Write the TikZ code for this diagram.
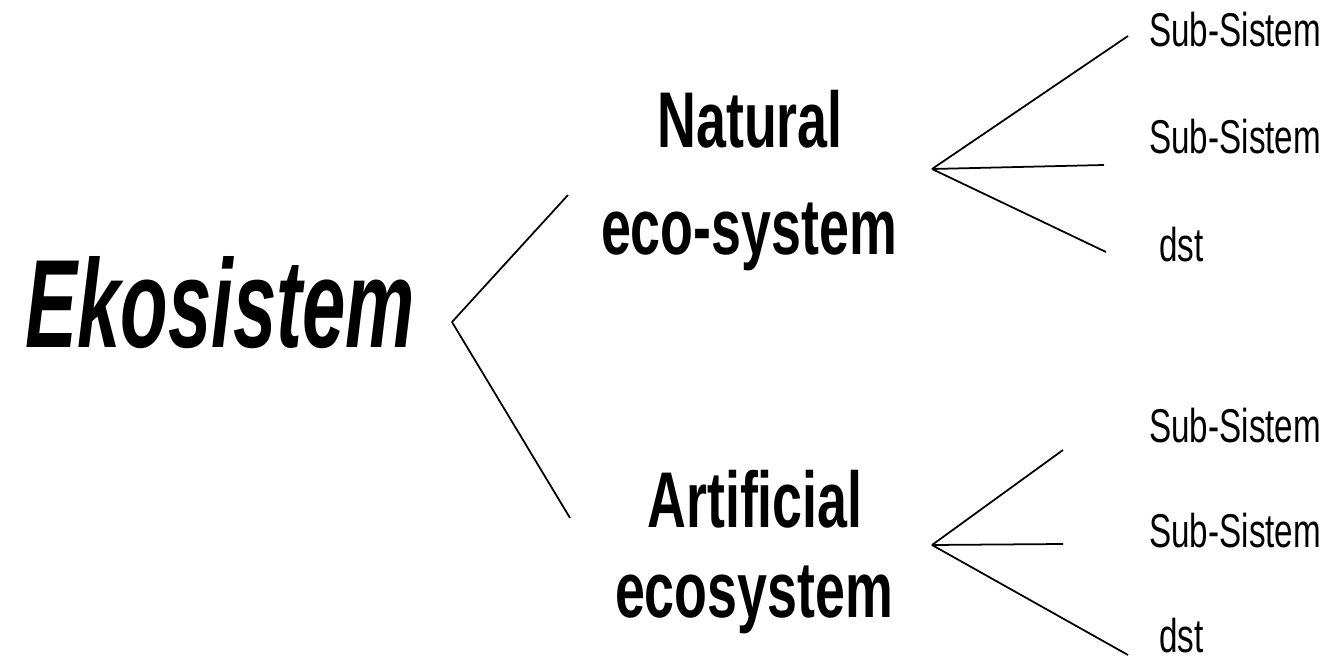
\documentclass[tikz,border=0pt]{standalone}
\usepackage{fontspec}
\setmainfont{Liberation Sans}
\newfontfamily\headfont[FakeStretch=0.62]{Liberation Sans}
\newfontfamily\midfont[FakeStretch=0.68]{Liberation Sans}
\newfontfamily\leaffont[FakeStretch=0.70]{Liberation Sans}
\usetikzlibrary{positioning}
\tikzset{
    root/.style={inner sep=0, anchor=base west, font=\headfont\bfseries\itshape\fontsize{71.5}{80}\selectfont},
    branch/.style={inner sep=0, anchor=base, font=\midfont\bfseries\fontsize{45}{50}\selectfont},
    leaf/.style={inner sep=0, anchor=base west, font=\leaffont\fontsize{27}{30}\selectfont},
    link/.style={line width=1pt}
}
\newcommand{\fan}[4]{
    \draw[link] (#1) -- (#2);
    \draw[link] (#1) -- (#3);
    \draw[link] (#1) -- (#4);
}
\begin{document}
\begin{tikzpicture}[x=0.02cm, y=-0.02cm]
                \useasboundingbox (0,0) rectangle (1340,662);
                \node[root] (eko) at (25,348) {Ekosistem};
                \node[branch] (nat) at (750,148) {Natural};
                \node[branch] (natsys) at (749,255) {eco-system};
                \node[branch] (art) at (755,527) {Artificial};
                \node[branch] (artsys) at (754,617) {ecosystem};
                \node[leaf] (natA) at (1149,47) {Sub-Sistem};
                \node[leaf] (natB) at (1149,154) {Sub-Sistem};
                \node[leaf] (natC) at (1159,262) {dst};
                \node[leaf] (artA) at (1149,442) {Sub-Sistem};
                \node[leaf] (artB) at (1149,547) {Sub-Sistem};
                \node[leaf] (artC) at (1159,652) {dst};
                % end points of the fans
                \coordinate (ekoR) at (452,322);
                \coordinate (toNat) at (568,195);
                \coordinate (toArt) at (570,518);
                \coordinate (natR) at (932,169);
                \coordinate (natAe) at (1128,36);
                \coordinate (natBe) at (1104,165);
                \coordinate (natCe) at (1106,252);
                \coordinate (artR) at (932,545);
                \coordinate (artAe) at (1063,450);
                \coordinate (artBe) at (1063,544);
                \coordinate (artCe) at (1128,655);
                \draw[link] (ekoR) -- (toNat);
                \draw[link] (ekoR) -- (toArt);
                \fan{natR}{natAe}{natBe}{natCe}
                \fan{artR}{artAe}{artBe}{artCe}
\end{tikzpicture}
\end{document}
